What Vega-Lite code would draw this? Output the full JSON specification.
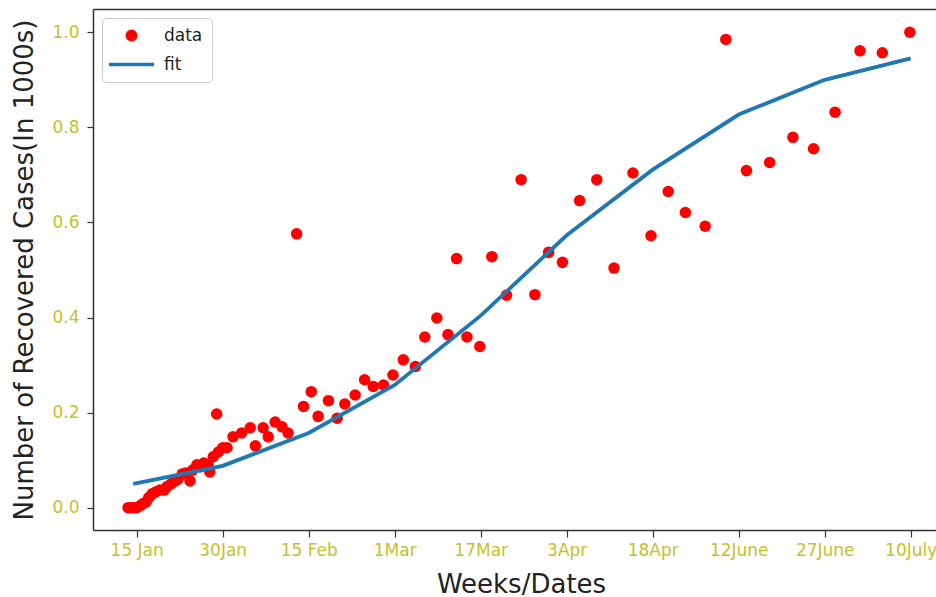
{
  "$schema": "https://vega.github.io/schema/vega-lite/v6.json",
  "width": 843,
  "height": 521,
  "autosize": {"type": "none"},
  "padding": {"left": 93, "top": 9, "right": 0, "bottom": 67},
  "background": "white",
  "config": {
    "view": {"stroke": null},
    "font": "DejaVu Sans",
    "axis": {"grid": false, "domainColor": "#333", "domainWidth": 1.5, "tickColor": "#333", "tickWidth": 1.2, "tickSize": 7, "labelColor": "#c2c22a", "labelFontSize": 17, "labelFont": "DejaVu Sans", "titleFont": "DejaVu Sans", "titleFontSize": 26, "titleFontWeight": "normal", "titleColor": "#222"}
  },
  "datasets": {
    "pts": [
      {"x": -0.10, "y": 0.000, "series": "data"}, {"x": -0.07, "y": 0.000, "series": "data"}, {"x": -0.03, "y": 0.000, "series": "data"}, {"x": 0.00, "y": 0.000, "series": "data"},
      {"x": 0.04, "y": 0.004, "series": "data"}, {"x": 0.07, "y": 0.008, "series": "data"}, {"x": 0.11, "y": 0.012, "series": "data"}, {"x": 0.14, "y": 0.021, "series": "data"},
      {"x": 0.18, "y": 0.029, "series": "data"}, {"x": 0.22, "y": 0.033, "series": "data"}, {"x": 0.27, "y": 0.037, "series": "data"}, {"x": 0.32, "y": 0.037, "series": "data"},
      {"x": 0.35, "y": 0.044, "series": "data"}, {"x": 0.40, "y": 0.050, "series": "data"}, {"x": 0.45, "y": 0.056, "series": "data"}, {"x": 0.48, "y": 0.060, "series": "data"},
      {"x": 0.53, "y": 0.071, "series": "data"}, {"x": 0.57, "y": 0.073, "series": "data"}, {"x": 0.62, "y": 0.056, "series": "data"}, {"x": 0.65, "y": 0.079, "series": "data"},
      {"x": 0.70, "y": 0.090, "series": "data"}, {"x": 0.74, "y": 0.086, "series": "data"}, {"x": 0.78, "y": 0.094, "series": "data"}, {"x": 0.83, "y": 0.090, "series": "data"},
      {"x": 0.85, "y": 0.075, "series": "data"}, {"x": 0.89, "y": 0.107, "series": "data"}, {"x": 0.93, "y": 0.197, "series": "data"}, {"x": 0.95, "y": 0.117, "series": "data"},
      {"x": 1.00, "y": 0.126, "series": "data"}, {"x": 1.05, "y": 0.126, "series": "data"}, {"x": 1.12, "y": 0.149, "series": "data"}, {"x": 1.22, "y": 0.157, "series": "data"},
      {"x": 1.32, "y": 0.168, "series": "data"}, {"x": 1.38, "y": 0.130, "series": "data"}, {"x": 1.47, "y": 0.168, "series": "data"}, {"x": 1.53, "y": 0.149, "series": "data"},
      {"x": 1.61, "y": 0.180, "series": "data"}, {"x": 1.69, "y": 0.170, "series": "data"}, {"x": 1.76, "y": 0.157, "series": "data"}, {"x": 1.86, "y": 0.576, "series": "data"},
      {"x": 1.94, "y": 0.213, "series": "data"}, {"x": 2.03, "y": 0.244, "series": "data"}, {"x": 2.11, "y": 0.192, "series": "data"}, {"x": 2.23, "y": 0.225, "series": "data"},
      {"x": 2.33, "y": 0.188, "series": "data"}, {"x": 2.42, "y": 0.218, "series": "data"}, {"x": 2.54, "y": 0.237, "series": "data"}, {"x": 2.65, "y": 0.269, "series": "data"},
      {"x": 2.75, "y": 0.255, "series": "data"}, {"x": 2.87, "y": 0.258, "series": "data"}, {"x": 2.98, "y": 0.279, "series": "data"}, {"x": 3.10, "y": 0.311, "series": "data"},
      {"x": 3.24, "y": 0.297, "series": "data"}, {"x": 3.35, "y": 0.359, "series": "data"}, {"x": 3.49, "y": 0.399, "series": "data"}, {"x": 3.62, "y": 0.364, "series": "data"},
      {"x": 3.72, "y": 0.524, "series": "data"}, {"x": 3.84, "y": 0.359, "series": "data"}, {"x": 3.99, "y": 0.339, "series": "data"}, {"x": 4.13, "y": 0.528, "series": "data"},
      {"x": 4.30, "y": 0.447, "series": "data"}, {"x": 4.47, "y": 0.690, "series": "data"}, {"x": 4.63, "y": 0.448, "series": "data"}, {"x": 4.79, "y": 0.537, "series": "data"},
      {"x": 4.95, "y": 0.516, "series": "data"}, {"x": 5.15, "y": 0.646, "series": "data"}, {"x": 5.35, "y": 0.690, "series": "data"}, {"x": 5.55, "y": 0.504, "series": "data"},
      {"x": 5.77, "y": 0.704, "series": "data"}, {"x": 5.98, "y": 0.572, "series": "data"}, {"x": 6.18, "y": 0.665, "series": "data"}, {"x": 6.38, "y": 0.621, "series": "data"},
      {"x": 6.61, "y": 0.592, "series": "data"}, {"x": 6.85, "y": 0.985, "series": "data"}, {"x": 7.09, "y": 0.709, "series": "data"}, {"x": 7.36, "y": 0.726, "series": "data"},
      {"x": 7.63, "y": 0.779, "series": "data"}, {"x": 7.87, "y": 0.755, "series": "data"}, {"x": 8.12, "y": 0.832, "series": "data"}, {"x": 8.41, "y": 0.961, "series": "data"},
      {"x": 8.67, "y": 0.957, "series": "data"}, {"x": 8.99, "y": 1.000, "series": "data"}
    ],
    "fit": [
      {"x": -0.04, "y": 0.050, "series": "fit"}, {"x": 1, "y": 0.088, "series": "fit"}, {"x": 2, "y": 0.157, "series": "fit"}, {"x": 3, "y": 0.258, "series": "fit"},
      {"x": 4, "y": 0.404, "series": "fit"}, {"x": 5, "y": 0.573, "series": "fit"}, {"x": 6, "y": 0.711, "series": "fit"}, {"x": 7, "y": 0.827, "series": "fit"},
      {"x": 8, "y": 0.900, "series": "fit"}, {"x": 9, "y": 0.945, "series": "fit"}
    ]
  },
  "resolve": {"axis": {"x": "independent"}},
  "layer": [
    {
      "data": {"name": "pts"},
      "mark": {"type": "point", "filled": true, "opacity": 1, "size": 133, "strokeWidth": 0},
      "encoding": {
        "x": {"field": "x", "type": "quantitative", "scale": {"domain": [-0.508, 9.294], "nice": false, "zero": false},
          "axis": {"orient": "bottom", "values": [0,1,2,3,4,5,6,7,8,9], "labelExpr": "['15 Jan','30Jan','15 Feb','1Mar','17Mar','3Apr','18Apr','12June','27June','10July'][datum.value]", "labelPadding": 5, "title": "Weeks/Dates", "titlePadding": 13, "titleX": 428, "titleAnchor": "start", "titleAlign": "center"}},
        "y": {"field": "y", "type": "quantitative", "scale": {"domain": [-0.047, 1.049], "nice": false, "zero": false},
          "axis": {"values": [0, 0.2, 0.4, 0.6, 0.8, 1.0], "format": ".1f", "tickSize": 6, "labelPadding": 8, "title": "Number of Recovered Cases(In 1000s)", "titlePadding": 14}},
        "color": {"field": "series", "type": "nominal", "scale": {"domain": ["data", "fit"], "range": ["#ff0000", "#1f77b4"]},
          "legend": {"title": null, "orient": "none", "legendX": 9, "legendY": 9, "padding": 9, "labelFontSize": 17, "labelColor": "#222", "symbolOffset": 12, "labelOffset": 24, "rowPadding": 8, "symbolSize": 70, "symbolStrokeWidth": 3.5, "strokeColor": "#cccccc", "fillColor": "white", "cornerRadius": 4,
            "encode": {"symbols": {"update": {"stroke": {"scale": "color", "field": "value"}, "fill": {"scale": "color", "field": "value"}}}}}},
        "shape": {"field": "series", "type": "nominal", "scale": {"domain": ["data", "fit"], "range": ["circle", "M-5.4,0L5.4,0"]}}
      }
    },
    {
      "data": {"name": "fit"},
      "mark": {"type": "line", "strokeWidth": 3.8},
      "encoding": {
        "x": {"field": "x", "type": "quantitative", "axis": {"orient": "top", "labels": false, "ticks": false, "title": null, "domain": true}},
        "y": {"field": "y", "type": "quantitative"},
        "color": {"field": "series", "type": "nominal"}
      }
    }
  ]
}
